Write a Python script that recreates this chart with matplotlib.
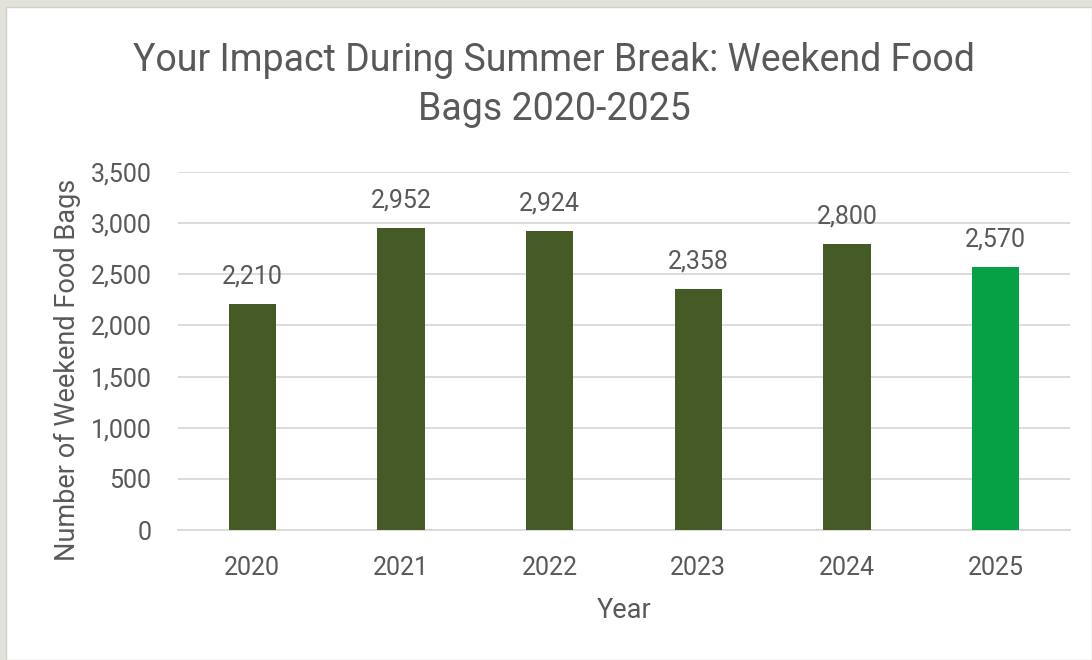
import matplotlib
matplotlib.use("Agg")
import matplotlib.pyplot as plt
from matplotlib.patches import Rectangle

years = ["2020", "2021", "2022", "2023", "2024", "2025"]
bags = [2210, 2952, 2924, 2358, 2800, 2570]
bar_colors = ["#465a26", "#465a26", "#465a26", "#465a26", "#465a26", "#07a145"]
title = "Your Impact During Summer Break: Weekend Food\nBags 2020-2025"
xlabel = "Year"
ylabel = "Number of Weekend Food Bags"
yticks = [0, 500, 1000, 1500, 2000, 2500, 3000, 3500]

TEXT = "#595959"
plt.rcParams['font.family'] = ['Roboto', 'DejaVu Sans']

W, H = 1092, 660
fig = plt.figure(figsize=(W / 100, H / 100), dpi=100)
fig.patch.set_facecolor("#e2e2db")
fig.patches.append(Rectangle((6 / W, 0), 1 - 6 / W, 1 - 7 / H, transform=fig.transFigure,
                             facecolor="white", edgecolor="#d0d0c8", lw=1, zorder=-10))

ax = fig.add_axes([178 / W, 1 - 530 / H, (1070 - 178) / W, (530 - 172) / H])
ax.set_facecolor("none")
x = list(range(len(years)))
bars = ax.bar(x, bags, width=0.32, color=bar_colors, zorder=3)
for xi, v in zip(x, bags):
    ax.annotate(f"{v:,}", (xi, v), xytext=(0, 11), textcoords="offset points",
                ha="center", va="bottom", fontsize=18, color=TEXT)

ax.set_xlim(-0.5, len(years) - 0.5)
ax.set_ylim(0, 3500)
ax.set_yticks(yticks)
ax.set_yticklabels([f"{t:,}" for t in yticks])
ax.set_xticks(x)
ax.set_xticklabels(years)
ax.tick_params(axis="both", length=0, labelsize=18, labelcolor=TEXT)
ax.tick_params(axis="y", pad=19)
ax.tick_params(axis="x", pad=19)
ax.grid(axis="y", color="#d9d9d9", lw=1.3, zorder=0)
for s in ["top", "right", "left"]:
    ax.spines[s].set_visible(False)
ax.spines["bottom"].set_color("#d9d9d9")
ax.spines["bottom"].set_linewidth(1.3)

ax.set_xlabel(xlabel, fontsize=19.5, color=TEXT, labelpad=12)
ax.set_ylabel(ylabel, fontsize=19.5, color=TEXT)
ax.yaxis.set_label_coords(-0.109, 0.447)
fig.text(554 / W, 1 - 85 / H, title, ha="center", va="center",
         fontsize=27, color=TEXT, linespacing=1.4)

fig.savefig("out.png", dpi=100, facecolor=fig.get_facecolor())
